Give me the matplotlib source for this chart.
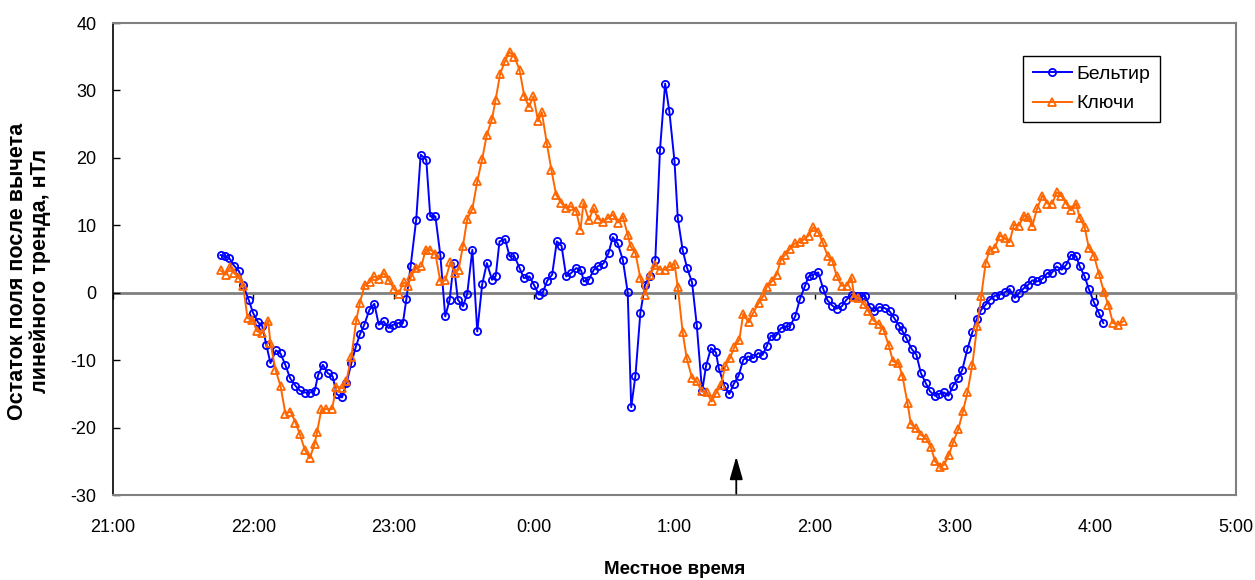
import matplotlib
matplotlib.use("Agg")
import matplotlib.pyplot as plt
import numpy as np

plt.rcParams['font.family'] = ['Liberation Sans', 'DejaVu Sans']
plt.rcParams['axes.unicode_minus'] = False

# ---- data: minutes since 21:00 local time, residual field (nT) ----
beltir_min = [45.97, 47.82, 49.67, 51.8, 53.9, 55.65, 58.07, 59.9, 62.05, 63.76,
              65.6, 67.3, 69.6, 71.6, 73.7, 75.7, 78.0, 79.8, 82.0, 84.1,
              86.2, 87.7, 89.7, 91.8, 93.9, 95.6, 97.9, 99.8, 101.9, 103.7,
              105.6, 107.4, 109.6, 111.7, 113.6, 115.7, 117.8, 119.7, 121.8, 123.9,
              125.4, 127.2, 129.6, 131.5, 133.9, 135.6, 137.8, 139.9, 142.0, 143.9,
              145.6, 147.4, 149.6, 151.4, 153.6, 155.7, 157.8, 159.8, 162.0, 163.6,
              165.2, 167.6, 169.5, 171.6, 173.8, 175.6, 178.0, 179.9, 182.0, 183.7,
              185.6, 187.7, 189.7, 191.7, 193.7, 195.8, 198.0, 200.1, 201.2, 203.4,
              205.5, 207.5, 209.6, 211.8, 213.6, 215.7, 217.9, 220.0, 221.5, 223.3,
              225.4, 227.4, 229.6, 231.8, 233.8, 236.0, 237.8, 240.0, 241.4, 243.5,
              245.4, 247.5, 249.5, 251.8, 253.5, 255.6, 257.7, 258.9, 261.3, 263.4,
              265.3, 267.4, 269.4, 271.5, 273.7, 275.8, 277.7, 279.5, 281.2, 283.4,
              285.5, 287.6, 289.3, 291.6, 293.6, 295.7, 297.3, 299.3, 301.4, 303.6,
              305.4, 307.5, 309.3, 311.5, 313.5, 315.8, 317.8, 319.6, 321.5, 323.5,
              325.3, 327.5, 329.9, 332.0, 333.9, 336.0, 337.1, 339.1, 341.4, 343.4,
              345.3, 347.4, 349.2, 351.4, 353.1, 355.2, 357.1, 359.1, 361.2, 363.0,
              365.2, 367.3, 369.2, 371.1, 373.0, 374.7, 377.0, 379.1, 381.1, 383.2,
              385.4, 387.2, 389.4, 391.2, 392.9, 395.1, 397.2, 399.4, 401.2, 403.3,
              405.5, 407.5, 409.5, 411.7, 413.2, 415.3, 417.1, 419.3, 421.4, 423.3]
beltir_val = [5.58, 5.39, 5.14, 4.0, 3.16, 1.08, -1.14, -3.02, -4.41, -4.9,
              -7.82, -10.44, -8.56, -9.01, -10.74, -12.67, -13.81, -14.5, -14.8, -14.8,
              -14.55, -12.18, -10.69, -11.93, -12.42, -15.05, -15.54, -13.41, -10.44, -8.12,
              -6.14, -4.76, -2.53, -1.64, -4.76, -4.26, -5.25, -4.76, -4.51, -4.51,
              -0.95, 3.9, 10.83, 20.47, 19.73, 11.32, 11.32, 5.63, -3.52, -1.05,
              4.4, -1.05, -2.04, -0.16, 6.37, -5.75, 1.25, 4.4, 1.92, 2.5,
              7.61, 7.96, 5.39, 5.39, 3.65, 2.17, 2.42, 1.18, -0.3, 0.04,
              1.77, 2.67, 7.61, 6.97, 2.42, 2.91, 3.65, 3.31, 1.67, 1.92,
              3.41, 4.0, 4.3, 5.88, 8.24, 7.3, 4.9, 0.05, -16.97, -12.32,
              -3.02, 1.19, 2.52, 4.9, 21.22, 31.02, 26.91, 19.49, 11.08, 6.28,
              3.66, 1.53, -4.75, -14.64, -10.83, -8.21, -8.86, -11.18, -13.8, -15.04,
              -13.55, -12.32, -9.94, -9.45, -9.7, -8.95, -9.2, -7.87, -6.38, -6.38,
              -5.24, -4.99, -4.99, -3.51, -0.94, 0.94, 2.42, 2.67, 3.02, 0.54,
              -1.14, -1.93, -2.35, -2.03, -1.04, -0.3, -0.55, -0.55, -0.45, -2.13,
              -2.77, -2.13, -2.28, -2.77, -3.76, -4.9, -5.49, -6.73, -8.36, -9.2,
              -11.92, -13.41, -14.64, -15.29, -14.99, -14.79, -15.29, -13.8, -12.67, -11.43,
              -8.36, -5.89, -3.91, -2.53, -1.78, -1.04, -0.45, -0.3, 0.05, 0.54,
              -0.79, -0.05, 0.69, 1.19, 1.83, 1.68, 2.03, 2.92, 2.92, 3.9,
              3.41, 4.15, 5.64, 5.39, 3.9, 2.42, 0.54, -1.44, -3.02, -4.5]

kluchi_min = [45.97, 48.25, 49.96, 51.8, 53.9, 55.65, 57.5, 59.6, 61.6, 63.76,
              66.3, 67.3, 69.45, 71.6, 73.7, 75.85, 78.0, 79.8, 82.0, 84.1,
              86.2, 87.2, 89.1, 91.2, 93.6, 95.5, 98.05, 99.8, 101.9, 104.0,
              105.5, 107.6, 109.7, 111.4, 113.6, 115.7, 117.8, 120.1, 122.1, 124.2,
              126.1, 127.5, 129.6, 131.8, 133.6, 135.6, 137.8, 139.9, 142.0, 144.2,
              146.0, 147.7, 149.6, 151.4, 153.6, 155.7, 157.8, 159.8, 162.0, 163.5,
              165.5, 167.5, 169.5, 171.6, 173.8, 175.8, 177.8, 179.7, 181.7, 183.3,
              185.4, 187.4, 189.4, 191.6, 193.7, 195.8, 198.0, 199.8, 201.1, 203.4,
              205.4, 207.2, 209.5, 211.7, 213.6, 215.8, 217.9, 220.0, 221.2, 223.3,
              225.4, 227.5, 229.6, 231.8, 233.8, 236.0, 238.0, 240.0, 241.4, 243.5,
              245.2, 247.5, 249.5, 251.6, 253.8, 255.9, 257.7, 259.9, 261.7, 263.7,
              265.6, 267.7, 269.4, 271.7, 273.7, 276.0, 277.9, 279.4, 281.6, 283.6,
              285.5, 287.3, 289.3, 291.6, 293.6, 295.5, 297.3, 299.3, 301.4, 303.3,
              305.4, 307.5, 309.3, 311.4, 313.7, 315.7, 316.8, 318.6, 320.8, 322.9,
              325.0, 327.2, 329.3, 331.5, 333.4, 335.7, 337.4, 339.6, 341.0, 343.1,
              345.3, 347.4, 349.5, 351.4, 353.5, 355.2, 357.3, 359.2, 361.3, 363.3,
              365.2, 367.3, 369.4, 371.1, 373.0, 374.7, 376.8, 379.0, 381.1, 383.2,
              385.1, 387.2, 389.4, 391.2, 392.9, 395.0, 397.2, 399.4, 401.5, 403.3,
              405.3, 407.5, 409.5, 411.7, 413.2, 415.3, 417.1, 419.3, 421.4, 423.6,
              425.4, 427.4, 429.5, 431.8]
kluchi_val = [3.31, 2.67, 3.8, 2.91, 2.17, 0.93, -3.77, -4.01, -5.74, -5.99,
              -4.16, -7.48, -11.43, -13.81, -17.96, -17.62, -19.25, -20.93, -23.31, -24.54,
              -22.42, -20.69, -17.27, -17.27, -17.27, -13.91, -14.15, -13.02, -9.46, -4.01,
              -1.54, 1.18, 1.53, 2.42, 2.02, 2.91, 1.92, 0.54, -0.16, 1.53,
              1.03, 2.52, 3.65, 3.9, 6.37, 6.37, 5.78, 1.68, 1.82, 4.5,
              2.91, 3.41, 6.97, 10.93, 12.41, 16.52, 19.83, 23.44, 25.77, 28.54,
              32.5, 34.3, 35.71, 34.97, 32.99, 29.13, 27.55, 29.13, 25.42, 26.76,
              22.2, 18.15, 14.54, 13.3, 12.56, 12.81, 12.07, 9.34, 13.3, 10.76,
              12.5, 11.0, 10.5, 11.1, 11.58, 10.4, 11.3, 8.61, 6.88, 5.89,
              2.18, -0.3, 2.67, 4.1, 3.41, 3.41, 3.91, 4.3, 0.84, -5.89,
              -9.7, -12.66, -13.16, -14.64, -14.79, -16.13, -14.89, -13.65, -10.83, -9.7,
              -8.06, -6.97, -3.12, -4.4, -2.92, -1.53, -0.54, 0.84, 1.68, 2.67,
              4.9, 5.64, 6.48, 7.37, 7.47, 7.97, 8.46, 9.7, 8.96, 7.47,
              5.49, 4.65, 2.5, 1.04, 1.04, 2.17, -0.64, -0.79, -1.63, -2.77,
              -4.11, -4.6, -5.49, -7.72, -10.19, -10.44, -12.32, -16.38, -19.44, -20.09,
              -21.08, -21.57, -22.81, -25.03, -25.78, -25.53, -24.04, -22.07, -20.24, -17.61,
              -14.79, -10.69, -4.9, -0.55, 4.4, 6.38, 6.63, 8.46, 8.11, 7.47,
              10.09, 9.94, 11.43, 11.23, 9.84, 12.5, 14.39, 13.21, 13.21, 14.89,
              14.39, 13.21, 12.22, 13.21, 11.08, 9.74, 6.63, 5.49, 2.82, 0.05,
              -1.78, -4.5, -4.75, -4.26]

series_names = ['Бельтир', 'Ключи']
hour_ticks = [0, 1, 2, 3, 4, 5, 6, 7, 8]
hour_labels = ['21:00', '22:00', '23:00', '0:00', '1:00', '2:00', '3:00', '4:00', '5:00']
y_ticks = [-30, -20, -10, 0, 10, 20, 30, 40]
arrow_hour = 4.44          # event mark (~1:26 local time)
arrow_from, arrow_to = -29.8, -24.3

# ---- figure ----
W, H = 1255, 580
fig = plt.figure(figsize=(W / 100, H / 100), dpi=100)
ax = fig.add_axes([113 / W, 1 - 495 / H, (1236 - 113) / W, (495 - 23) / H])

xb = np.array(beltir_min) / 60.0
xk = np.array(kluchi_min) / 60.0

ax.axhline(0, color='#808080', lw=2.0, zorder=1)
ax.plot(xb, beltir_val, '-', color='#0000FF', lw=1.4, marker='o', ms=5.2,
        mfc='none', mec='#0000FF', mew=1.3, label=series_names[0], zorder=3)
ax.plot(xk, kluchi_val, '-', color='#FF6600', lw=1.4, marker='^', ms=5.8,
        mfc='none', mec='#FF6600', mew=1.3, label=series_names[1], zorder=4)

ax.set_xlim(hour_ticks[0], hour_ticks[-1])
ax.set_ylim(y_ticks[0], y_ticks[-1])
ax.set_xticks(hour_ticks)
ax.set_xticklabels(hour_labels)
ax.set_yticks(y_ticks)

ax.tick_params(axis='x', length=0, pad=17, labelsize=13)
ax.tick_params(axis='y', direction='in', length=5, width=1, pad=12, labelsize=13,
               color='black')

for s in ['top', 'right', 'bottom']:
    ax.spines[s].set_color('#808080')
    ax.spines[s].set_linewidth(1.5)
ax.spines['left'].set_color('black')
ax.spines['left'].set_linewidth(1.2)

# tick marks on the zero line (x axis crossing at 0)
sec = ax.secondary_xaxis(0, transform=ax.transData)
sec.set_xticks(hour_ticks)
sec.tick_params(direction='out', length=4, width=1, color='black',
                labelbottom=False, labeltop=False)
for s in sec.spines.values():
    s.set_visible(False)

# event arrow
ax.annotate('', xy=(arrow_hour, arrow_to), xytext=(arrow_hour, arrow_from),
            arrowprops=dict(arrowstyle='-|>,head_length=1.4,head_width=0.4',
                            color='black', lw=1.3, shrinkA=0, shrinkB=0),
            zorder=5)

fig.text((113 + 1236) / 2 / W, 1 - 569 / H, 'Местное время', ha='center',
         va='center', fontsize=13.5, fontweight='bold')
fig.text(29 / W, 1 - 271 / H, 'Остаток поля после вычета\nлинейного тренда, нТл',
         rotation=90, ha='center', va='center', fontsize=15.5, fontweight='bold',
         multialignment='center', linespacing=1.05)

leg = ax.legend(loc='upper left', bbox_to_anchor=(1023 / W, 1 - 55.7 / H),
                bbox_transform=fig.transFigure, borderaxespad=0, fontsize=14,
                frameon=True, fancybox=False, framealpha=1, edgecolor='black',
                handlelength=2.0, handletextpad=0.25, borderpad=0.5,
                labelspacing=0.6, numpoints=1)
leg.get_frame().set_linewidth(1.0)

fig.savefig('out.png', dpi=100)
